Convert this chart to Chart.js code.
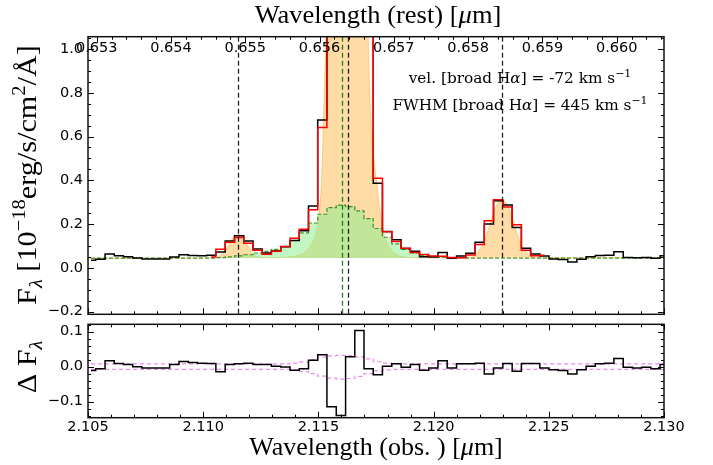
<!DOCTYPE html>
<html><head><meta charset="utf-8">
<script src="https://cdn.jsdelivr.net/npm/chart.js@4.4.1/dist/chart.umd.min.js"></script>
<style>
html,body{margin:0;padding:0;background:#fff;}
#wrap{position:relative;width:713px;height:465px;overflow:hidden;}
canvas{position:absolute;left:0;}
#c1{top:0;} #c2{top:320px;}
</style></head><body>
<div id="wrap">
<canvas id="c1" width="713" height="320"></canvas>
<canvas id="c2" width="713" height="145"></canvas>
</div>
<script>
// ---------------- data ----------------
// observed wavelength of each spectral bin centre [micron]
const wave = [2.10513,2.10554,2.10594,2.10634,2.10674,2.10714,2.10754,2.10794,2.10834,2.10875,
  2.10915,2.10955,2.10995,2.11035,2.11075,2.11116,2.11156,2.11196,2.11236,2.11276,
  2.11316,2.11357,2.11397,2.11437,2.11477,2.11517,2.11557,2.11598,2.11638,2.11678,
  2.11718,2.11758,2.11798,2.11839,2.11879,2.11919,2.11959,2.11999,2.12039,2.12079,
  2.12120,2.12160,2.12200,2.12240,2.12280,2.12321,2.12361,2.12401,2.12441,2.12481,
  2.12521,2.12562,2.12602,2.12642,2.12682,2.12722,2.12762,2.12803,2.12843,2.12883,
  2.12923,2.12963,2.13003];
// observed flux (black histogram)
const flux = [0.035,0.040,0.063,0.055,0.051,0.045,0.041,0.041,0.041,0.050,
  0.060,0.057,0.056,0.058,0.072,0.123,0.147,0.123,0.086,0.068,
  0.077,0.097,0.125,0.170,0.283,0.675,2.10,3.90,3.40,1.90,
  1.15,0.387,0.166,0.128,0.088,0.076,0.051,0.050,0.070,0.044,
  0.054,0.067,0.117,0.200,0.307,0.287,0.184,0.090,0.064,0.054,
  0.041,0.038,0.027,0.040,0.051,0.057,0.058,0.074,0.048,0.046,
  0.048,0.044,0.056];
// total binned model (red histogram), only over the fitted window
const model = [null,null,null,null,null,null,null,null,null,null,null,null,null,
  0.050,0.085,0.117,0.139,0.113,0.080,0.062,0.076,0.098,0.135,0.176,0.265,0.641,
  2.215,4.04,3.37,1.80,1.156,0.410,0.165,0.120,0.090,0.070,0.061,0.054,0.053,0.048,
  0.046,0.059,0.107,0.215,0.311,0.278,0.197,0.081,0.055,0.058,
  null,null,null,null,null,null,null,null,null,null,null,null,null];
// broad H-alpha component + continuum (green dashed histogram)
const broad = [0.045,0.045,0.045,0.045,0.045,0.045,0.045,0.045,0.045,0.045,
  0.045,0.045,0.045,0.045,0.047,0.050,0.055,0.060,0.068,0.075,
  0.085,0.098,0.125,0.160,0.205,0.245,0.275,0.287,0.280,0.260,
  0.225,0.180,0.140,0.110,0.085,0.068,0.058,0.052,0.049,0.047,
  0.046,0.045,0.045,0.045,0.045,0.045,0.045,0.045,0.045,0.045,
  0.045,0.045,0.045,0.045,0.045,0.045,0.045,0.045,0.045,0.045,
  0.045,0.045,0.045];
// narrow lines + continuum (smooth orange model)
const narrowWave = [2.10500,2.10986,2.11051,2.11082,2.11108,2.11129,2.11151,2.11173,2.11194,2.11220,
  2.11247,2.11312,2.11377,2.11420,2.11446,2.11472,2.11490,2.11503,2.11514,2.11522,
  2.11531,2.11550,2.11585,2.11624,2.11663,2.11698,2.11715,2.11726,2.11739,2.11754,
  2.11770,2.11785,2.11811,2.11837,2.11872,2.11941,2.12158,2.12193,2.12223,2.12249,
  2.12275,2.12297,2.12319,2.12345,2.12371,2.12401,2.12431,2.12484,2.13000];
const narrowFlux = [0.044,0.045,0.047,0.062,0.100,0.135,0.152,0.135,0.100,0.062,
  0.047,0.046,0.050,0.060,0.075,0.110,0.160,0.250,0.400,0.680,
  1.00,2.00,4.20,5.00,4.20,2.00,1.10,0.70,0.52,0.38,
  0.24,0.15,0.090,0.062,0.050,0.046,0.047,0.075,0.130,0.215,
  0.290,0.310,0.290,0.215,0.130,0.072,0.050,0.046,0.048];
const continuum = 0.045;
// residuals (data - model) and the +/- uncertainty envelope
const resid = [-0.011,-0.006,0.017,0.009,0.006,0.000,-0.004,-0.004,-0.004,0.006,
  0.015,0.012,0.010,0.009,-0.015,0.006,0.008,0.010,0.006,0.006,
  0.001,-0.001,-0.010,-0.006,0.018,0.034,-0.115,-0.140,0.028,0.103,
  -0.006,-0.023,0.001,0.008,-0.002,0.006,-0.010,-0.004,0.017,-0.004,
  0.008,0.008,0.010,-0.021,-0.004,0.009,-0.013,0.009,0.009,-0.004,
  -0.009,-0.011,-0.021,-0.009,0.001,0.008,0.010,0.023,-0.002,-0.004,
  -0.002,-0.006,0.006];
const errUp = [0.008,0.008,0.008,0.008,0.008,0.008,0.008,0.008,0.008,0.008,
  0.008,0.008,0.008,0.008,0.008,0.008,0.008,0.008,0.008,0.008,
  0.008,0.008,0.010,0.013,0.020,0.027,0.031,0.032,0.031,0.028,
  0.022,0.014,0.010,0.008,0.008,0.008,0.008,0.008,0.008,0.008,
  0.008,0.008,0.008,0.008,0.008,0.008,0.008,0.008,0.008,0.008,
  0.008,0.008,0.008,0.008,0.008,0.008,0.008,0.008,0.008,0.008,
  0.008,0.008,0.008];
const errLo = [-0.008,-0.008,-0.008,-0.008,-0.008,-0.008,-0.008,-0.008,-0.008,-0.008,
  -0.008,-0.008,-0.008,-0.008,-0.008,-0.008,-0.008,-0.008,-0.008,-0.008,
  -0.008,-0.008,-0.010,-0.014,-0.020,-0.027,-0.033,-0.036,-0.034,-0.028,
  -0.020,-0.012,-0.009,-0.008,-0.008,-0.008,-0.008,-0.008,-0.008,-0.008,
  -0.008,-0.008,-0.008,-0.008,-0.008,-0.008,-0.008,-0.008,-0.008,-0.008,
  -0.008,-0.008,-0.008,-0.008,-0.008,-0.008,-0.008,-0.008,-0.008,-0.008,
  -0.008,-0.008,-0.008];
// line positions (observed wavelength) marked by dashed lines
const lineMarks = [2.11150, 2.11630, 2.12297];
const broadCentre = [2.11601];
// axis ranges and tick labels
const OBS_MIN = 2.105, OBS_MAX = 2.130;
const ONE_PLUS_Z = 3.22416;   // conversion used for the rest-frame top axis
const restTicks = [0.653, 0.654, 0.655, 0.656, 0.657, 0.658, 0.659, 0.660];
const fluxRange = [-0.212, 1.056];
const residRange = [-0.146, 0.121];
const annotVel = '-72', annotFWHM = '445';

// ---------------- helpers ----------------
const pts = (xs, ys) => xs.map((x, i) => ({x, y: ys[i]}));
const TICKFONT = {family: 'DejaVu Sans', size: 14.5};
const fmt = (d) => (v) => { let s = (Math.abs(v) < 1e-9 ? 0 : v).toFixed(d); return s.replace('-', '\u2212'); };

function rich(ctx, segs, x, y, rot, sx) {
  ctx.save(); ctx.translate(x, y); if (rot) ctx.rotate(rot); if (sx) ctx.scale(sx, 1);
  ctx.fillStyle = '#000'; ctx.textBaseline = 'alphabetic'; ctx.textAlign = 'left';
  const fonts = segs.map(s => (s.it ? 'italic ' : '') + s.sz + 'px ' + s.f);
  let w = 0; const ws = segs.map((s, i) => { ctx.font = fonts[i]; const m = ctx.measureText(s.t).width; w += m; return m; });
  let cx = -w / 2;
  segs.forEach((s, i) => { ctx.font = fonts[i]; ctx.fillText(s.t, cx, s.dy || 0); cx += ws[i]; });
  ctx.restore();
}

const inwardTicks = {
  id: 'inwardTicks',
  afterDatasetsDraw(chart, args, o) {
    const {ctx, chartArea: a} = chart;
    ctx.save();
    if (o.vlines) {
      o.vlines.forEach(v => {
        const sx = chart.scales.x;
        v.vals.forEach(val => {
          const p = Math.round(sx.getPixelForValue(val)) + 0.5;
          ctx.strokeStyle = v.color; ctx.lineWidth = 1.3; ctx.setLineDash([5, 3]);
          ctx.beginPath(); ctx.moveTo(p, a.top); ctx.lineTo(p, a.bottom); ctx.stroke();
        });
      });
      ctx.setLineDash([]);
    }
    ctx.strokeStyle = '#000'; ctx.lineWidth = 1;
    const drawX = (scale, step, len, sides) => {
      const n0 = Math.ceil(scale.min / step - 1e-6), n1 = Math.floor(scale.max / step + 1e-6);
      for (let n = n0; n <= n1; n++) {
        const p = Math.round(scale.getPixelForValue(n * step)) + 0.5;
        if (p < a.left - 0.5 || p > a.right + 0.5) continue;
        ctx.beginPath();
        if (sides.includes('b')) { ctx.moveTo(p, a.bottom); ctx.lineTo(p, a.bottom - len); }
        if (sides.includes('t')) { ctx.moveTo(p, a.top); ctx.lineTo(p, a.top + len); }
        ctx.stroke();
      }
    };
    const drawY = (scale, step, len) => {
      const n0 = Math.ceil(scale.min / step - 1e-6), n1 = Math.floor(scale.max / step + 1e-6);
      for (let n = n0; n <= n1; n++) {
        const p = Math.round(scale.getPixelForValue(n * step)) + 0.5;
        ctx.beginPath();
        ctx.moveTo(a.left, p); ctx.lineTo(a.left + len, p);
        ctx.moveTo(a.right, p); ctx.lineTo(a.right - len, p);
        ctx.stroke();
      }
    };
    o.x.forEach(t => drawX(chart.scales[t.id], t.major, 6, t.sides));
    o.x.forEach(t => drawX(chart.scales[t.id], t.minor, 3, t.sides));
    drawY(chart.scales.y, o.y.major, 6);
    drawY(chart.scales.y, o.y.minor, 3);
    ctx.strokeStyle = '#111'; ctx.lineWidth = 1.5;
    ctx.strokeRect(a.left, a.top, a.right - a.left, a.bottom - a.top);
    ctx.restore();
  },
  afterDraw(chart, args, o) { if (o.texts) o.texts(chart.ctx, chart); }
};
Chart.register(inwardTicks);

const SERIF = "'Liberation Serif', serif";
const DSERIF = "'DejaVu Serif', serif";
const noPadY = s => { s.width = 88; s.paddingTop = 0; s.paddingBottom = 0; };

// ---------------- main panel ----------------
new Chart(document.getElementById('c1'), {
  type: 'line',
  data: {datasets: [
    {data: pts(wave, model), stepped: 'middle', borderColor: '#ff0000', borderWidth: 1.5, pointRadius: 0, fill: false, order: 1, spanGaps: false},
    {data: pts(wave, flux), stepped: 'middle', borderColor: '#000', borderWidth: 1.5, pointRadius: 0, fill: false, order: 2},
    {data: pts(wave, broad), stepped: 'middle', borderColor: 'rgba(0,120,0,0.75)', borderDash: [4, 2], borderWidth: 1.2, pointRadius: 0,
      fill: {value: continuum}, backgroundColor: 'rgba(144,238,144,0.55)', order: 3},
    {data: pts(narrowWave, narrowFlux), cubicInterpolationMode: 'monotone', borderColor: 'rgba(255,170,40,0.5)', borderWidth: 1, pointRadius: 0,
      fill: {value: continuum}, backgroundColor: 'rgba(255,170,40,0.42)', order: 4}
  ]},
  options: {
    responsive: false, animation: false, devicePixelRatio: 1,
    layout: {padding: {left: 0, right: 49, top: 0, bottom: 0}},
    plugins: {legend: {display: false}, tooltip: {enabled: false},
      inwardTicks: {
        x: [{id: 'x', major: 0.005, minor: 0.001, sides: 'b'}, {id: 'xTop', major: 0.001, minor: 0.0002, sides: 't'}],
        y: {major: 0.2, minor: 0.05},
        vlines: [{vals: broadCentre, color: 'rgba(0,128,0,0.9)'}, {vals: lineMarks, color: 'rgba(0,0,0,0.85)'}],
        texts(ctx, chart) {
          // rest-frame tick labels, drawn inside the top of the frame
          const st = chart.scales.xTop;
          ctx.save(); ctx.font = '14.5px "DejaVu Sans"'; ctx.fillStyle = '#000'; ctx.textAlign = 'center'; ctx.textBaseline = 'middle';
          restTicks.forEach(v => ctx.fillText(v.toFixed(3), st.getPixelForValue(v), 48.5));
          ctx.restore();
          rich(ctx, [{t: 'Wavelength (rest) [', sz: 25, f: SERIF}, {t: '\u03bc', sz: 25, f: SERIF, it: true}, {t: 'm]', sz: 25, f: SERIF}], 378, 23, 0, 1.06);
          rich(ctx, [{t: 'F', sz: 28, f: SERIF}, {t: '\u03bb', sz: 19, f: SERIF, it: true, dy: 6}, {t: ' [10', sz: 28, f: SERIF},
            {t: '\u221218', sz: 19, f: SERIF, dy: -11}, {t: 'erg/s/cm', sz: 28, f: SERIF}, {t: '2', sz: 19, f: SERIF, dy: -11},
            {t: '/\u00c5]', sz: 28, f: SERIF}], 36, 175, -Math.PI / 2, 1.08);
          rich(ctx, [{t: 'vel. [broad H', sz: 15.3, f: DSERIF}, {t: '\u03b1', sz: 15.3, f: DSERIF, it: true},
            {t: '] = ' + annotVel + ' km s', sz: 15.3, f: DSERIF}, {t: '\u22121', sz: 11, f: DSERIF, dy: -6}], 520, 83);
          rich(ctx, [{t: 'FWHM [broad H', sz: 15.3, f: DSERIF}, {t: '\u03b1', sz: 15.3, f: DSERIF, it: true},
            {t: '] = ' + annotFWHM + ' km s', sz: 15.3, f: DSERIF}, {t: '\u22121', sz: 11, f: DSERIF, dy: -6}], 520, 110);
        }
      }
    },
    scales: {
      x: {type: 'linear', position: 'bottom', min: OBS_MIN, max: OBS_MAX,
        ticks: {display: false}, grid: {display: false}, border: {display: false},
        afterFit: s => { s.height = 5.7; s.paddingLeft = 0; s.paddingRight = 0; }},
      xTop: {type: 'linear', position: 'top', min: OBS_MIN / ONE_PLUS_Z, max: OBS_MAX / ONE_PLUS_Z,
        ticks: {display: false, stepSize: 0.001},
        grid: {display: false, drawTicks: false}, border: {display: false},
        afterFit: s => { s.height = 36.7; s.paddingLeft = 0; s.paddingRight = 0; }},
      y: {min: fluxRange[0], max: fluxRange[1],
        ticks: {stepSize: 0.2, includeBounds: false, padding: 5, color: '#000', font: TICKFONT, callback: fmt(1)},
        grid: {display: false, drawTicks: false}, border: {display: false},
        afterFit: noPadY}
    }
  }
});

// ---------------- residual panel ----------------
new Chart(document.getElementById('c2'), {
  type: 'line',
  data: {datasets: [
    {data: pts(wave, resid), stepped: 'middle', borderColor: '#000', borderWidth: 1.5, pointRadius: 0, fill: false, order: 1},
    {data: pts(wave, errUp), stepped: 'middle', borderColor: 'rgba(238,130,238,0.95)', borderDash: [4, 3], borderWidth: 1.2, pointRadius: 0, fill: false, order: 2},
    {data: pts(wave, errLo), stepped: 'middle', borderColor: 'rgba(238,130,238,0.95)', borderDash: [4, 3], borderWidth: 1.2, pointRadius: 0, fill: false, order: 3}
  ]},
  options: {
    responsive: false, animation: false, devicePixelRatio: 1,
    layout: {padding: {left: 0, right: 49, top: 4.3, bottom: 0}},
    plugins: {legend: {display: false}, tooltip: {enabled: false},
      inwardTicks: {
        x: [{id: 'x', major: 0.005, minor: 0.001, sides: 'bt'}],
        y: {major: 0.1, minor: 0.02},
        texts(ctx) {
          rich(ctx, [{t: 'Wavelength (obs. ) [', sz: 25, f: SERIF}, {t: '\u03bc', sz: 25, f: SERIF, it: true}, {t: 'm]', sz: 25, f: SERIF}], 376, 135, 0, 1.04);
          rich(ctx, [{t: '\u0394 F', sz: 28, f: SERIF}, {t: '\u03bb', sz: 19, f: SERIF, it: true, dy: 6}], 36, 47, -Math.PI / 2, 1.08);
        }
      }
    },
    scales: {
      x: {type: 'linear', position: 'bottom', min: OBS_MIN, max: OBS_MAX,
        ticks: {stepSize: 0.005, includeBounds: false, autoSkip: false, maxRotation: 0, padding: 1, color: '#000', font: TICKFONT, callback: fmt(3)},
        grid: {display: false, drawTicks: false}, border: {display: false},
        afterFit: s => { s.height = 47.3; s.paddingLeft = 0; s.paddingRight = 0; }},
      y: {min: residRange[0], max: residRange[1],
        ticks: {stepSize: 0.1, includeBounds: false, padding: 5, color: '#000', font: TICKFONT, callback: fmt(1)},
        grid: {display: false, drawTicks: false}, border: {display: false},
        afterFit: noPadY}
    }
  }
});
</script>
</body></html>
